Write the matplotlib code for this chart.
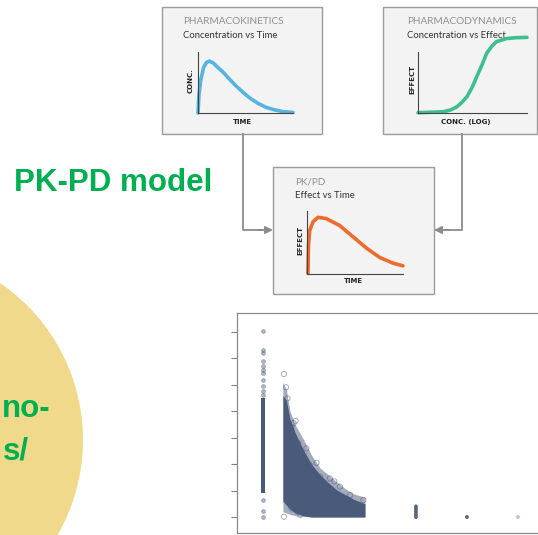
import matplotlib

matplotlib.use("Agg")
import matplotlib.pyplot as plt
from matplotlib.patches import Circle, Rectangle

W, H = 538, 535

# mini diagram curves (axes fractions)
pk_t = [0, 0.01, 0.03, 0.06, 0.09, 0.12, 0.16, 0.20, 0.27, 0.34, 0.41, 0.48,
        0.55, 0.63, 0.72, 0.81, 0.90, 1.0]
pk_c = [0, 0.30, 0.55, 0.75, 0.83, 0.85, 0.82, 0.76, 0.66, 0.54, 0.43, 0.33,
        0.24, 0.16, 0.09, 0.05, 0.02, 0.01]

pd_logc = [0, 0.23, 0.30, 0.355, 0.40, 0.45, 0.50, 0.54, 0.59, 0.63, 0.68, 0.72,
           0.81, 0.90, 1.0]
pd_eff = [0.005, 0.02, 0.05, 0.10, 0.17, 0.27, 0.43, 0.60, 0.80, 0.98, 1.10, 1.17,
          1.22, 1.235, 1.24]

pkpd_t = [0.01, 0.015, 0.028, 0.063, 0.115, 0.20, 0.34, 0.48, 0.62, 0.76, 0.90, 1.0]
pkpd_eff = [0.01, 0.45, 0.69, 0.83, 0.90, 0.88, 0.77, 0.59, 0.41, 0.26, 0.17, 0.13]

# scatter panel: dense core and sparse fringe envelopes
env_x = [0.39, 0.46, 0.53, 0.63, 0.79, 0.95, 1.12, 1.28, 1.45, 1.61, 1.77, 2.0]
core_hi = [4.6, 4.4, 3.7, 3.2, 2.55, 2.0, 1.6, 1.3, 1.02, 0.85, 0.68, 0.5]
core_lo = [0.6, 0.45, 0.3, 0.15, 0.05, 0.0, 0.0, 0.0, 0.0, 0.0, 0.0, 0.0]
fringe_hi = [5.1, 4.8, 4.0, 3.5, 2.95, 2.35, 1.85, 1.6, 1.32, 1.08, 0.88, 0.75]
fringe_lo = [0.2, 0.15, 0.1, 0.05, 0.02, 0.0, 0.0, 0.0, 0.0, 0.0, 0.0, 0.0]

col_lo, col_hi = 0.9, 4.5  # dense column at x = 0
col_pts_y = [7.04, 6.32, 6.20, 5.90, 5.71, 5.56, 5.45, 5.18, 4.96, 4.77, 4.62,
             0.64, 0.24, 0.01]
edge_x = [0.41, 0.45, 0.48, 0.64, 0.56, 0.69, 0.76, 0.92, 1.12, 1.31, 1.51, 1.71,
          1.97, 0.41, 0.73, 0.56, 0.50, 0.60, 0.85, 1.05, 1.40]
edge_y = [5.41, 4.91, 4.49, 3.64, 3.42, 2.79, 2.41, 1.97, 1.52, 1.46, 1.15, 0.83,
          0.64, 0.01, 0.08, 0.33, 0.64, 3.55, 2.60, 2.05, 1.35]
late_x = [3, 3, 3, 3, 3, 4, 5]
late_y = [0.0, 0.1, 0.2, 0.3, 0.4, 0.0, 0.0]
yticks = [0, 1, 2, 3, 4, 5, 6, 7]

GREEN = "#00b050"
SLATE = "#4a5a7b"
GRAY = "#8c8c8c"
TXT = ["Lato", "DejaVu Sans"]

fig = plt.figure(figsize=(W / 100, H / 100), dpi=100)
bg = fig.add_axes([0, 0, 1, 1])
bg.set_xlim(0, W)
bg.set_ylim(H, 0)
bg.axis("off")


def px_axes(l, t, r, b, **kw):
    return fig.add_axes([l / W, 1 - b / H, (r - l) / W, (b - t) / H], **kw)


# yellow circle with its (cropped) label
big = dict(fontsize=22.5, fontweight="bold", color=GREEN, family="Liberation Sans")
bg.add_patch(Circle((-107, 440), 190, color="#f1d98b", lw=0))
bg.text(51, 417, "no-", ha="right", va="baseline", **big)
bg.text(29, 460, "s/", ha="right", va="baseline", **big)
bg.text(14, 183, "PK-PD model", ha="left", va="center", **big)

# boxes
for l, t, r, b in [(162, 7, 322, 134), (383, 7, 537, 134), (273, 167, 434, 294)]:
    bg.add_patch(Rectangle((l, t), r - l, b - t, fc="#f3f3f3", ec="#9c9c9c", lw=1))

# connectors
bg.plot([243, 243, 262], [134, 230, 230], color=GRAY, lw=1.3)
bg.plot([462, 462, 445], [134, 230, 230], color=GRAY, lw=1.3)
for x0, x1 in [(258, 273), (449, 434)]:
    bg.annotate("", xy=(x1, 230), xytext=(x0, 230),
                arrowprops=dict(arrowstyle="-|>", color=GRAY, lw=1.3,
                                mutation_scale=11, shrinkA=0, shrinkB=0))

# box titles
for x, y, title, sub in [(183, 22, "PHARMACOKINETICS", "Concentration vs Time"),
                         (407, 22, "PHARMACODYNAMICS", "Concentration vs Effect"),
                         (295, 182, "PK/PD", "Effect vs Time")]:
    bg.text(x, y, title, ha="left", va="center", fontsize=7.2, color="#8f8f8f",
            family=TXT)
    bg.text(x, y + 14, sub, ha="left", va="center", fontsize=6.8, color="#333333",
            family=TXT)

lab = dict(fontsize=5, fontweight="bold", color="#222222", family="DejaVu Sans")
bg.text(191, 81, "CONC.", rotation=90, ha="center", va="center", **lab)
bg.text(412, 79, "EFFECT", rotation=90, ha="center", va="center", **lab)
bg.text(300, 240, "EFFECT", rotation=90, ha="center", va="center", **lab)
bg.text(242, 122, "TIME", ha="center", va="center", **lab)
bg.text(466, 122, "CONC. (LOG)", ha="center", va="center", **lab)
bg.text(353, 281, "TIME", ha="center", va="center", **lab)


def mini(ax, x, y, color):
    ax.plot(x, y, color=color, lw=2.6, solid_capstyle="round", clip_on=False)
    ax.set_xlim(0, 1)
    ax.set_ylim(0, 1)
    ax.patch.set_alpha(0)
    for s in ["top", "right"]:
        ax.spines[s].set_visible(False)
    for s in ["left", "bottom"]:
        ax.spines[s].set_color("#444444")
        ax.spines[s].set_linewidth(0.8)
    ax.set_xticks([])
    ax.set_yticks([])


mini(px_axes(198, 52, 293, 113), pk_t, pk_c, "#56b4e3")
mini(px_axes(418, 52, 527, 113), pd_logc, pd_eff, "#3dbf8e")
mini(px_axes(307, 211, 403, 274), pkpd_t, pkpd_eff, "#ec6b2d")

# scatter panel
sc = px_axes(237, 313, 600, 533)
sc.fill_between(env_x, fringe_lo, fringe_hi, color=SLATE, alpha=0.5, lw=0)
sc.fill_between(env_x, core_lo, core_hi, color=SLATE, lw=0)
sc.fill_betweenx([col_lo, col_hi], -0.04, 0.04, color=SLATE, lw=0)
sc.scatter([0] * len(col_pts_y), col_pts_y, s=8, facecolor=SLATE, alpha=0.45,
           edgecolor=SLATE, lw=0.5)
sc.scatter(edge_x, edge_y, s=14, facecolor="none", edgecolor=SLATE, alpha=0.5, lw=0.7)
sc.scatter(late_x, late_y, s=8, color=SLATE, alpha=[0.9] * 6 + [0.35], lw=0)
sc.set_xlim(-0.51, 6.61)
sc.set_ylim(-0.605, 7.72)
sc.set_yticks(yticks)
sc.set_yticklabels([])
sc.set_xticks([])
sc.tick_params(axis="y", direction="out", length=4, width=0.8, color="#808080")
for s in sc.spines.values():
    s.set_color("#8a8a8a")
    s.set_linewidth(0.9)

fig.savefig("out.png", dpi=100)
